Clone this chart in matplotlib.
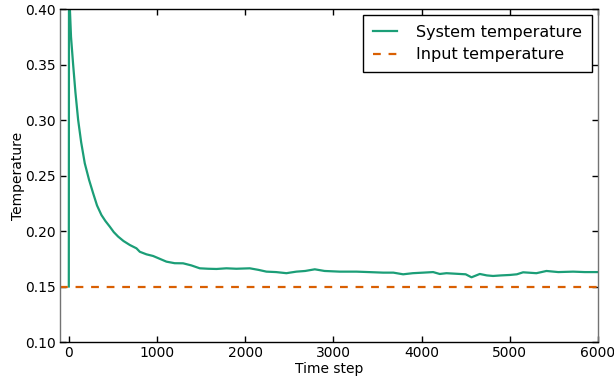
import matplotlib
matplotlib.use("Agg")
import matplotlib.pyplot as plt

steps = [0, 2, 25, 49, 75, 106, 140, 181, 230, 276, 320, 370, 415, 465, 510,
         559, 620, 692, 767, 805, 880, 956, 1030, 1107, 1200, 1296, 1390, 1485,
         1580, 1675, 1787, 1900, 2052, 2150, 2241, 2350, 2468, 2506, 2581, 2680,
         2789, 2900, 3072, 3262, 3400, 3564, 3680, 3791, 3900, 4018, 4131, 4206,
         4282, 4433, 4500, 4566, 4660, 4740, 4810, 4900, 5000, 5080, 5151, 5302,
         5416, 5550, 5718, 5850, 5983, 6000]
system_temp = [0.150, 0.420, 0.375, 0.350, 0.325, 0.300, 0.280, 0.261, 0.246, 0.234,
               0.223, 0.2144, 0.209, 0.2039, 0.199, 0.195, 0.191, 0.1874, 0.1844,
               0.1813, 0.179, 0.1775, 0.175, 0.1724, 0.171, 0.1709, 0.169, 0.1664,
               0.166, 0.1658, 0.1664, 0.166, 0.1664, 0.165, 0.1634, 0.163, 0.162,
               0.1625, 0.1634, 0.164, 0.1655, 0.164, 0.1634, 0.1634, 0.163, 0.1625,
               0.1625, 0.161, 0.162, 0.1625, 0.163, 0.1613, 0.162, 0.1613, 0.161,
               0.1583, 0.1613, 0.160, 0.1595, 0.160, 0.1604, 0.161, 0.1628, 0.162,
               0.164, 0.163, 0.1634, 0.163, 0.163, 0.163]
input_temp = 0.15

xticks = [0, 1000, 2000, 3000, 4000, 5000, 6000]
yticks = [0.10, 0.15, 0.20, 0.25, 0.30, 0.35, 0.40]

green = "#1b9e77"
orange = "#d95f02"

fig = plt.figure(figsize=(6.14, 3.79), dpi=100)
ax = fig.add_axes([0.0977, 0.0976, 0.8762, 0.8786])

ax.plot(steps, system_temp, color=green, lw=1.6, label="System temperature")
ax.axhline(input_temp, color=orange, lw=1.6, ls=(0, (3.5, 3.5)), label="Input temperature")

ax.set_xlim(-100, 6000)
ax.set_ylim(0.10, 0.40)
ax.set_xticks(xticks)
ax.set_yticks(yticks)
ax.set_yticklabels([f"{v:.2f}" for v in yticks])
ax.tick_params(direction="in", length=4, width=1, top=True, right=True,
               labelsize=10, pad=3, colors="black")
for side in ["left", "right"]:
    ax.spines[side].set_color("0.45")
for s in ax.spines.values():
    s.set_linewidth(1)

ax.set_xlabel("Time step", fontsize=10, labelpad=1)
ax.set_ylabel("Temperature", fontsize=10, labelpad=0)

leg = ax.legend(loc="upper right", fontsize=11.5, fancybox=False, framealpha=1,
                edgecolor="black", handlelength=1.5, handletextpad=1.2,
                borderpad=0.6, labelspacing=0.45, borderaxespad=0.4)
leg.get_frame().set_linewidth(1)

fig.savefig("out.png", dpi=100)
